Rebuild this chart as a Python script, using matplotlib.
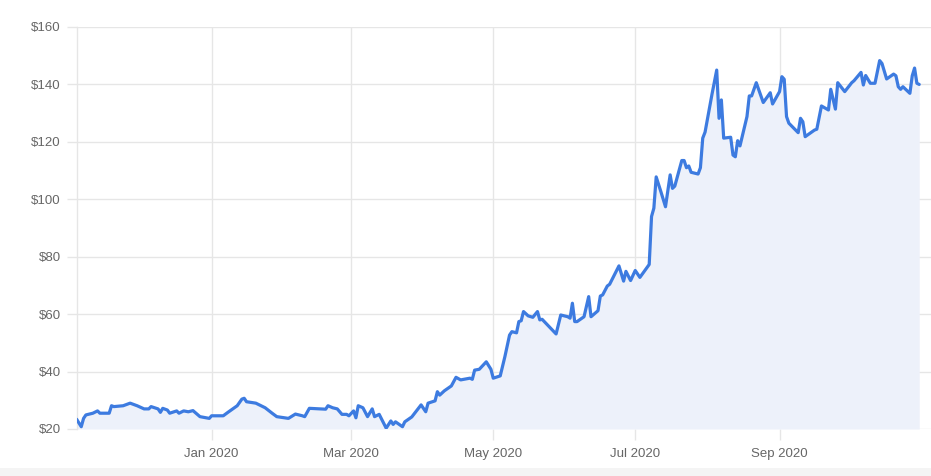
import matplotlib
matplotlib.use("Agg")
import matplotlib.pyplot as plt
import matplotlib.dates as mdates
import pandas as pd
from matplotlib.patches import Rectangle

dates = [
    "2019-11-04", "2019-11-06", "2019-11-07", "2019-11-08", "2019-11-11", "2019-11-13",
    "2019-11-14", "2019-11-18", "2019-11-19", "2019-11-20", "2019-11-24", "2019-11-27",
    "2019-11-30", "2019-12-03", "2019-12-05", "2019-12-06", "2019-12-09", "2019-12-10",
    "2019-12-11", "2019-12-13", "2019-12-14", "2019-12-17", "2019-12-18", "2019-12-20",
    "2019-12-22", "2019-12-24", "2019-12-27", "2019-12-31", "2020-01-01", "2020-01-06",
    "2020-01-08", "2020-01-12", "2020-01-14", "2020-01-15", "2020-01-16", "2020-01-20",
    "2020-01-24", "2020-01-27", "2020-01-29", "2020-02-03", "2020-02-06", "2020-02-09",
    "2020-02-10", "2020-02-12", "2020-02-19", "2020-02-20", "2020-02-22", "2020-02-24",
    "2020-02-26", "2020-02-28", "2020-02-29", "2020-03-02", "2020-03-03", "2020-03-04",
    "2020-03-06", "2020-03-08", "2020-03-10", "2020-03-11", "2020-03-13", "2020-03-16",
    "2020-03-18", "2020-03-19", "2020-03-20", "2020-03-23", "2020-03-24", "2020-03-27",
    "2020-03-31", "2020-04-02", "2020-04-03", "2020-04-06", "2020-04-07", "2020-04-08",
    "2020-04-10", "2020-04-13", "2020-04-15", "2020-04-17", "2020-04-21", "2020-04-22",
    "2020-04-23", "2020-04-25", "2020-04-28", "2020-04-30", "2020-05-01", "2020-05-04",
    "2020-05-06", "2020-05-08", "2020-05-09", "2020-05-11", "2020-05-12", "2020-05-13",
    "2020-05-14", "2020-05-16", "2020-05-18", "2020-05-20", "2020-05-21", "2020-05-22",
    "2020-05-26", "2020-05-28", "2020-05-30", "2020-06-02", "2020-06-03", "2020-06-04",
    "2020-06-05", "2020-06-06", "2020-06-09", "2020-06-11", "2020-06-12", "2020-06-15",
    "2020-06-16", "2020-06-17", "2020-06-19", "2020-06-20", "2020-06-24", "2020-06-26",
    "2020-06-27", "2020-06-29", "2020-07-01", "2020-07-03", "2020-07-07", "2020-07-08",
    "2020-07-09", "2020-07-10", "2020-07-12", "2020-07-14", "2020-07-16", "2020-07-17",
    "2020-07-18", "2020-07-21", "2020-07-22", "2020-07-23", "2020-07-24", "2020-07-25",
    "2020-07-28", "2020-07-29", "2020-07-30", "2020-07-31", "2020-08-03", "2020-08-05",
    "2020-08-06", "2020-08-07", "2020-08-08", "2020-08-11", "2020-08-12", "2020-08-13",
    "2020-08-14", "2020-08-15", "2020-08-18", "2020-08-19", "2020-08-20", "2020-08-22",
    "2020-08-25", "2020-08-28", "2020-08-29", "2020-09-01", "2020-09-02", "2020-09-03",
    "2020-09-04", "2020-09-05", "2020-09-09", "2020-09-10", "2020-09-11", "2020-09-12",
    "2020-09-16", "2020-09-17", "2020-09-19", "2020-09-22", "2020-09-23", "2020-09-25",
    "2020-09-26", "2020-09-29", "2020-10-02", "2020-10-03", "2020-10-06", "2020-10-07",
    "2020-10-08", "2020-10-10", "2020-10-12", "2020-10-14", "2020-10-15", "2020-10-17",
    "2020-10-20", "2020-10-21", "2020-10-22", "2020-10-23", "2020-10-24", "2020-10-27",
    "2020-10-28", "2020-10-29", "2020-10-30", "2020-10-31",
]

prices = [
    23.4, 20.8, 23.7, 24.9, 25.5, 26.3,
    25.5, 25.5, 28.1, 27.8, 28.1, 29.0,
    28.1, 27.0, 27.0, 27.8, 27.0, 25.8,
    27.2, 26.6, 25.5, 26.3, 25.5, 26.3,
    26.0, 26.4, 24.3, 23.7, 24.6, 24.6,
    25.8, 28.1, 30.4, 30.7, 29.5, 29.0,
    27.4, 25.5, 24.3, 23.7, 25.2, 24.6,
    24.3, 27.2, 26.9, 28.1, 27.4, 27.0,
    25.1, 25.1, 24.6, 26.3, 23.9, 28.1,
    27.4, 24.3, 27.0, 24.3, 25.1, 20.3,
    22.8, 21.6, 22.5, 20.8, 22.5, 24.2,
    28.4, 26.0, 29.0, 29.8, 33.0, 31.8,
    33.3, 35.0, 38.0, 37.1, 37.7, 37.3,
    40.5, 40.8, 43.4, 40.8, 37.7, 38.5,
    45.2, 52.7, 53.9, 53.5, 57.4, 57.7,
    60.9, 59.4, 58.9, 60.9, 58.0, 58.2,
    54.8, 53.1, 59.7, 59.1, 58.6, 63.8,
    57.4, 57.4, 59.1, 66.1, 59.1, 61.2,
    66.3, 66.7, 69.8, 70.4, 76.8, 71.5,
    74.9, 71.7, 75.2, 72.8, 77.3, 94.0,
    96.9, 107.8, 102.7, 97.4, 108.5, 103.8,
    104.6, 113.5, 113.5, 111.0, 111.6, 109.4,
    108.8, 111.0, 121.3, 123.4, 136.7, 145.0,
    128.2, 134.6, 121.3, 121.6, 115.4, 114.8,
    120.4, 118.6, 128.8, 136.0, 136.0, 140.6,
    133.7, 137.1, 133.2, 137.5, 142.7, 141.8,
    128.8, 126.5, 123.2, 128.2, 127.0, 121.8,
    124.1, 124.4, 132.5, 131.1, 138.3, 131.4,
    140.6, 137.5, 140.6, 141.3, 144.2, 139.8,
    143.1, 140.4, 140.4, 148.3, 147.3, 141.9,
    143.6, 143.0, 139.2, 138.3, 139.2, 136.9,
    143.0, 145.7, 140.4, 140.0,
]

tick_dates = ["2020-01-01", "2020-03-01", "2020-05-01", "2020-07-01", "2020-09-01"]
y_ticks = [20, 40, 60, 80, 100, 120, 140, 160]

x = pd.to_datetime(dates)

W, H = 931, 476
fig = plt.figure(figsize=(W / 100, H / 100), dpi=100)
fig.patch.set_facecolor("white")

left, right = 76.5 / W, 1.0
bottom, top = 1 - 429 / H, 1 - 27 / H
ax = fig.add_axes([left, bottom, right - left, top - bottom])

grid_c = "#e6e6e6"
line_c = "#3d7be0"
fill_c = "#edf1fa"

ax.fill_between(x, prices, 20, color=fill_c, linewidth=0, zorder=1)
ax.plot(x, prices, color=line_c, linewidth=2.3, solid_joinstyle="round",
        solid_capstyle="round", zorder=3)

ax.set_ylim(20, 160)
ax.set_xlim(pd.Timestamp("2019-11-03 23:00"), pd.Timestamp("2020-11-05 01:30"))

ax.set_yticks(y_ticks)
ax.set_yticklabels([f"${v}" for v in y_ticks])
ax.set_xticks(pd.to_datetime(tick_dates))
ax.xaxis.set_major_formatter(mdates.DateFormatter("%b %Y"))

ax.grid(True, color=grid_c, linewidth=1.0, zorder=0)
ax.set_axisbelow(True)
for s in ["top", "right", "bottom"]:
    ax.spines[s].set_visible(False)
ax.spines["left"].set_color(grid_c)
ax.spines["left"].set_linewidth(1.0)

ax.tick_params(axis="y", length=7.2, width=1.0, color=grid_c, pad=4,
               labelsize=9.5, labelcolor="#666666")
ax.tick_params(axis="x", length=8, width=1.0, color=grid_c, pad=6,
               labelsize=9.5, labelcolor="#666666")
for lab in ax.get_xticklabels() + ax.get_yticklabels():
    lab.set_fontfamily(["Liberation Sans", "DejaVu Sans"])

# faint bottom band
fig.patches.append(Rectangle((0, 0), 1, 8 / H, transform=fig.transFigure,
                             facecolor="#f4f4f4", edgecolor="none", zorder=-1))

fig.savefig("out.png", dpi=100, facecolor="white")
